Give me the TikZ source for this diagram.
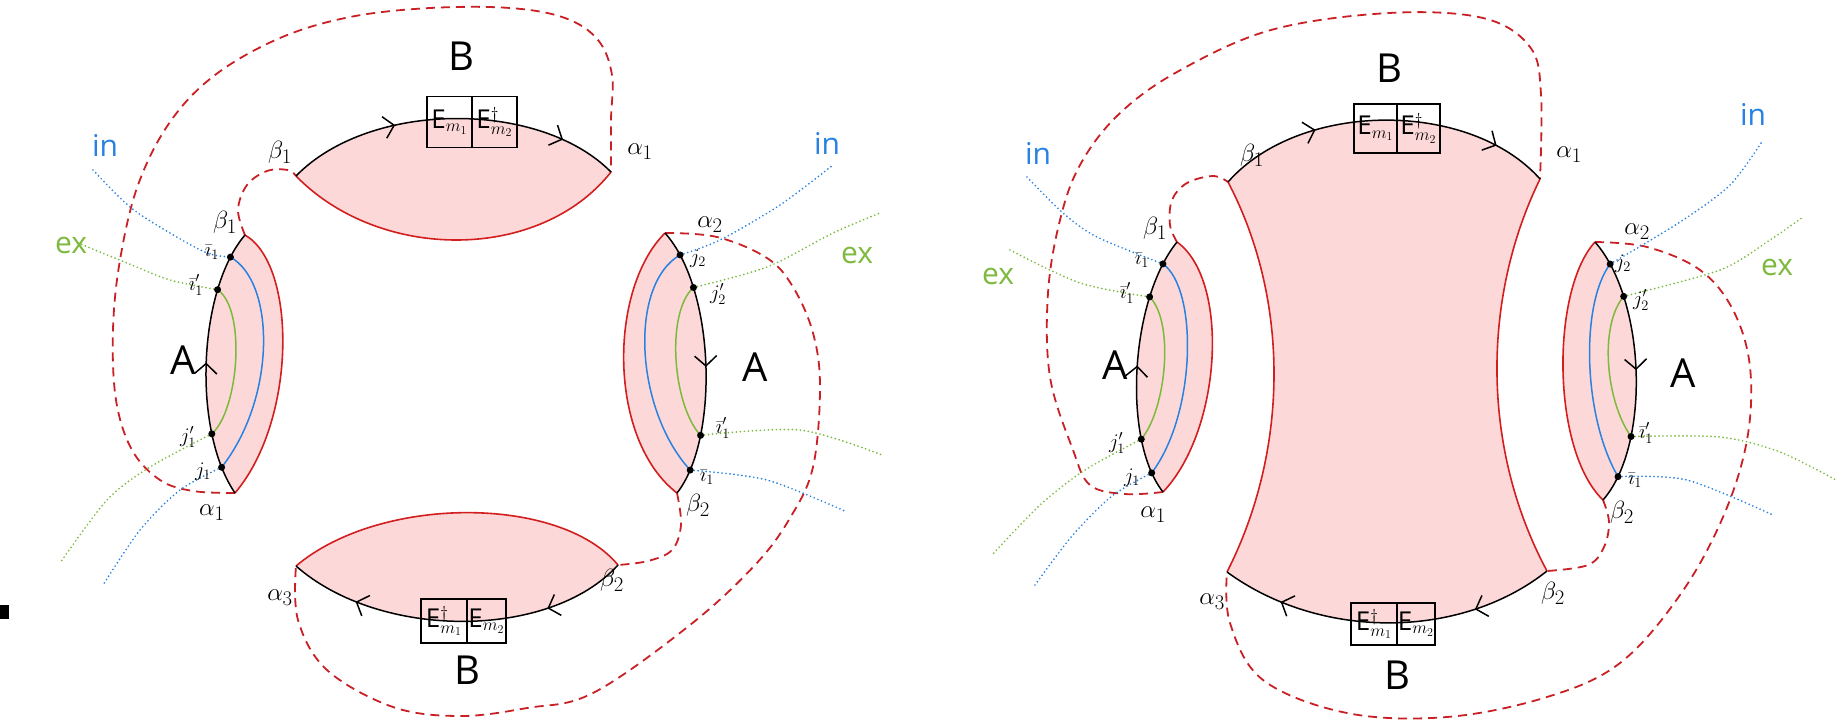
\documentclass[tikz,border=0pt]{standalone}
\usepackage{fontspec}
\setmainfont{Open Sans}
\usetikzlibrary{arrows.meta,decorations.markings}
\definecolor{pinkfill}{RGB}{253,216,216}
\definecolor{redline}{RGB}{210,30,30}
\definecolor{reddash}{RGB}{200,32,36}
\definecolor{inblue}{RGB}{40,130,225}
\definecolor{exgreen}{RGB}{125,185,60}
\tikzset{
  chev/.tip={Straight Barb[length=10pt,width=22pt]},
  blk/.style={line width=1.5pt, draw=black},
  redl/.style={line width=1.6pt, draw=redline},
  rdash/.style={line width=1.8pt, draw=reddash, dash pattern=on 9pt off 6pt},
  bdot/.style={line width=1.9pt, draw=inblue, dash pattern=on 0pt off 4pt, line cap=round},
  gdot/.style={line width=1.9pt, draw=exgreen, dash pattern=on 0pt off 4pt, line cap=round},
  blu/.style={line width=1.5pt, draw=inblue},
  grn/.style={line width=1.5pt, draw=exgreen},
  pnt/.style={circle, fill=black, inner sep=0pt, minimum size=7pt},
  lab/.style={inner sep=0pt, font=\fontsize{22}{22}\selectfont},
  ablab/.style={inner sep=0pt, font=\fontsize{30}{30}\selectfont},
  big/.style={inner sep=0pt, font=\fontsize{40}{40}\selectfont},
  word/.style={inner sep=0pt, font=\fontsize{30}{30}\selectfont},
  ebox/.style={draw=black, line width=1.4pt, inner sep=0pt, font=\fontsize{26}{26}\selectfont},
  arrs/.style 2 args={postaction={decorate,decoration={markings,
      mark=at position #1 with {\arrow{chev}},
      mark=at position #2 with {\arrow{chev}}}}},
  arrone/.style={postaction={decorate,decoration={markings,
      mark=at position #1 with {\arrow{chev}}}}},
  rarrone/.style={postaction={decorate,decoration={markings,
      mark=at position #1 with {\arrowreversed{chev}}}}},
}
\begin{document}
\begin{tikzpicture}[x=1pt,y=-1pt]
\useasboundingbox (0,0) rectangle (1845,721);
\fill[black] (0,605) rectangle (9,619);

%================ LEFT DIAGRAM ================
\coordinate (TLb1) at (296,176);
\coordinate (TLa1) at (611,172);
\coordinate (BLa3) at (296,566);
\coordinate (BLb2) at (618,565);
\coordinate (LAt) at (245,235);
\coordinate (LAb) at (235,493);
\coordinate (RAt) at (665,233);
\coordinate (RAb) at (677,493);

\fill[pinkfill] (TLb1) .. controls (370,100) and (540,100) .. (TLa1) .. controls (540,262) and (380,262) .. (TLb1) -- cycle;
\fill[pinkfill] (BLa3) .. controls (380,495) and (560,495) .. (BLb2) .. controls (550,640) and (380,640) .. (BLa3) -- cycle;
\fill[pinkfill] (LAt) .. controls (198,290) and (192,430) .. (LAb) .. controls (297,420) and (297,265) .. (LAt) -- cycle;
\fill[pinkfill] (RAt) .. controls (716,290) and (719,440) .. (RAb) .. controls (608,440) and (608,290) .. (RAt) -- cycle;

\draw[rdash] plot[smooth, tension=0.6] coordinates {(LAb) (193,491) (160,480) (132,450) (116,400) (113,330) (120,260) (138,185) (170,122) (215,75) (280,38) (350,17) (430,8) (510,8) (565,18) (598,40) (612,75) (611,120) (TLa1)};
\draw[rdash] plot[smooth, tension=0.6] coordinates {(LAt) (238,210) (247,185) (267,171) (288,170) (TLb1)};
\draw[rdash] plot[smooth, tension=0.6] coordinates {(RAt) (717,237) (767,258) (793,287) (813,333) (820,387) (813,467) (790,518) (755,565) (690,625) (593,693) (527,708) (460,716) (393,707) (327,670) (298,620) (BLa3)};
\draw[rdash] plot[smooth, tension=0.6] coordinates {(RAb) (681,525) (672,550) (648,561) (BLb2)};

\draw[redl] (TLa1) .. controls (540,262) and (380,262) .. (TLb1);
\draw[blk, arrs={0.33}{0.83}] (TLb1) .. controls (370,100) and (540,100) .. (TLa1);
\node[ebox, minimum width=45pt, minimum height=51pt] (TLe1) at (449.5,122) {$\mathrm{E}_{m_1}$};
\node[ebox, minimum width=45pt, minimum height=51pt] (TLe2) at (494.5,122) {$\mathrm{E}^{\dagger}_{m_2}$};
\node[big] (TLB) at (461,56) {B};
\node[ablab] (TLlb) at (280,152) {$\beta_1$};
\node[ablab] (TLla) at (640,152) {$\alpha_1$};

\draw[redl] (BLa3) .. controls (380,495) and (560,495) .. (BLb2);
\draw[blk, arrs={0.24}{0.8}] (BLb2) .. controls (550,640) and (380,640) .. (BLa3);
\node[ebox, minimum width=46pt, minimum height=44pt] (BLe1) at (444,621) {$\mathrm{E}^{\dagger}_{m_1}$};
\node[ebox, minimum width=39pt, minimum height=44pt] (BLe2) at (486.5,621) {$\mathrm{E}_{m_2}$};
\node[big] (BLB) at (467,670) {B};
\node[ablab] (BLla) at (280,598) {$\alpha_3$};
\node[ablab] (BLlb) at (612,580) {$\beta_2$};

\draw[redl] (LAt) .. controls (297,265) and (297,420) .. (LAb);
\draw[blk, rarrone=0.5] (LAt) .. controls (198,290) and (192,430) .. (LAb)
  coordinate[pos=0.115] (LAi1) coordinate[pos=0.25] (LAi1p)
  coordinate[pos=0.75] (LAj1p) coordinate[pos=0.88] (LAj1);
\draw[blu] (LAi1) .. controls +(45,25) and +(55,-70) .. (LAj1);
\draw[grn] (LAi1p) .. controls +(29,20) and +(27,-24) .. (LAj1p);
\coordinate (LinE) at (93,170);
\coordinate (LexE) at (78,243);
\coordinate (LgdE) at (60,563);
\coordinate (LbdE) at (103,585);
\draw[bdot] plot[smooth] coordinates {(LinE) (130,207) (170,233) (207,253) (LAi1)};
\draw[gdot] plot[smooth] coordinates {(LexE) (127,263) (170,280) (LAi1p)};
\draw[gdot] plot[smooth] coordinates {(LAj1p) (150,467) (107,500) (LgdE)};
\draw[bdot] plot[smooth] coordinates {(LAj1) (180,490) (140,530) (LbdE)};
\node[pnt] (LAd1) at (LAi1) {};
\node[pnt] (LAd2) at (LAi1p) {};
\node[pnt] (LAd3) at (LAj1p) {};
\node[pnt] (LAd4) at (LAj1) {};
\node[ablab] (LAlb) at (225,222) {$\beta_1$};
\node[lab] (LAli) at (212,252) {$\bar{\imath}_1$};
\node[lab] (LAlip) at (196,285) {$\bar{\imath}_1'$};
\node[lab] (LAljp) at (188,437) {$j_1'$};
\node[lab] (LAlj) at (203,472) {$j_1$};
\node[ablab] (LAla) at (212,513) {$\alpha_1$};
\node[big] (LAA) at (183,360) {A};
\node[word, text=inblue] (Lin) at (105,145) {in};
\node[word, text=exgreen] (Lex) at (71,245) {ex};

\draw[redl] (RAt) .. controls (608,290) and (608,440) .. (RAb);
\draw[blk, arrone=0.52] (RAt) .. controls (716,290) and (719,440) .. (RAb)
  coordinate[pos=0.11] (RAj2) coordinate[pos=0.24] (RAj2p)
  coordinate[pos=0.74] (RAi1p) coordinate[pos=0.88] (RAi1);
\draw[blu] (RAj2) .. controls +(-52,30) and +(-55,-60) .. (RAi1);
\draw[grn] (RAj2p) .. controls +(-28,25) and +(-28,-30) .. (RAi1p);
\coordinate (RinE) at (833,165);
\coordinate (RexE) at (880,213);
\coordinate (RgrE) at (882,455);
\coordinate (RbrE) at (847,512);
\draw[bdot] plot[smooth] coordinates {(RAj2) (720,240) (780,205) (RinE)};
\draw[gdot] plot[smooth] coordinates {(RAj2p) (767,267) (833,233) (RexE)};
\draw[gdot] plot[smooth] coordinates {(RAi1p) (800,430) (RgrE)};
\draw[bdot] plot[smooth] coordinates {(RAi1) (767,480) (RbrE)};
\node[pnt] (RAd1) at (RAj2) {};
\node[pnt] (RAd2) at (RAj2p) {};
\node[pnt] (RAd3) at (RAi1p) {};
\node[pnt] (RAd4) at (RAi1) {};
\node[ablab] (RAla) at (710,225) {$\alpha_2$};
\node[lab] (RAlj) at (698,259) {$j_2$};
\node[lab] (RAljp) at (718,294) {$j_2'$};
\node[lab] (RAlip) at (723,428) {$\bar{\imath}_1'$};
\node[lab] (RAli) at (707,477) {$\bar{\imath}_1$};
\node[ablab] (RAlb) at (698,505) {$\beta_2$};
\node[big] (RAA) at (755,367) {A};
\node[word, text=inblue] (Rin) at (827,143) {in};
\node[word, text=exgreen] (Rex) at (857,255) {ex};

%================ RIGHT DIAGRAM ================
\coordinate (TRb1) at (1228,182);
\coordinate (TRa1) at (1540,179);
\coordinate (BRa3) at (1227,572);
\coordinate (BRb2) at (1547,571);
\coordinate (RLt) at (1177,242);
\coordinate (RLb) at (1163,492);
\coordinate (RRt) at (1595,242);
\coordinate (RRb) at (1603,500);

\fill[pinkfill] (TRb1) .. controls (1300,100) and (1470,100) .. (TRa1) .. controls (1481,300) and (1482,450) .. (BRb2) .. controls (1460,640) and (1320,640) .. (BRa3) .. controls (1289,450) and (1290,300) .. (TRb1) -- cycle;
\fill[pinkfill] (RLt) .. controls (1130,300) and (1122,440) .. (RLb) .. controls (1222,430) and (1230,280) .. (RLt) -- cycle;
\fill[pinkfill] (RRt) .. controls (1646,300) and (1651,445) .. (RRb) .. controls (1551,450) and (1551,290) .. (RRt) -- cycle;

\draw[rdash] plot[smooth, tension=0.6] coordinates {(RLb) (1125,494) (1090,485) (1073,450) (1050,377) (1048,293) (1060,220) (1080,165) (1118,115) (1177,72) (1271,30) (1389,13) (1483,18) (1530,47) (1541,94) (TRa1)};
\draw[rdash] plot[smooth, tension=0.6] coordinates {(RLt) (1170,225) (1172,200) (1187,183) (1213,176) (TRb1)};
\draw[rdash] plot[smooth, tension=0.6] coordinates {(RRt) (1647,247) (1700,270) (1733,310) (1750,367) (1747,440) (1723,517) (1680,595) (1620,663) (1547,697) (1447,717) (1347,713) (1263,680) (1230,623) (BRa3)};
\draw[rdash] plot[smooth, tension=0.6] coordinates {(RRb) (1609,522) (1604,547) (1588,565) (BRb2)};

\draw[redl] (TRa1) .. controls (1481,300) and (1482,450) .. (BRb2);
\draw[redl] (BRa3) .. controls (1289,450) and (1290,300) .. (TRb1);
\draw[blk, arrs={0.3}{0.84}] (TRb1) .. controls (1300,100) and (1470,100) .. (TRa1);
\draw[blk, arrs={0.24}{0.82}] (BRb2) .. controls (1460,640) and (1320,640) .. (BRa3);
\node[ebox, minimum width=43pt, minimum height=49pt] (TRe1) at (1375.5,128.5) {$\mathrm{E}_{m_1}$};
\node[ebox, minimum width=43pt, minimum height=49pt] (TRe2) at (1418.5,128.5) {$\mathrm{E}^{\dagger}_{m_2}$};
\node[ebox, minimum width=46pt, minimum height=42pt] (BRe1) at (1374,624) {$\mathrm{E}^{\dagger}_{m_1}$};
\node[ebox, minimum width=38pt, minimum height=42pt] (BRe2) at (1416,624) {$\mathrm{E}_{m_2}$};
\node[big] (TRB) at (1389,68) {B};
\node[big] (BRB) at (1397,675) {B};
\node[ablab] (TRlb) at (1252,155) {$\beta_1$};
\node[ablab] (TRla) at (1569,155) {$\alpha_1$};
\node[ablab] (BRla) at (1212,602) {$\alpha_3$};
\node[ablab] (BRlb) at (1553,593) {$\beta_2$};

\draw[redl] (RLt) .. controls (1230,280) and (1222,430) .. (RLb);
\draw[blk, rarrone=0.5] (RLt) .. controls (1130,300) and (1122,440) .. (RLb)
  coordinate[pos=0.11] (RLi1) coordinate[pos=0.245] (RLi1p)
  coordinate[pos=0.75] (RLj1p) coordinate[pos=0.895] (RLj1);
\draw[blu] (RLi1) .. controls +(35,25) and +(45,-60) .. (RLj1);
\draw[grn] (RLi1p) .. controls +(25,25) and +(25,-30) .. (RLj1p);
\coordinate (RLinE) at (1027,177);
\coordinate (RLexE) at (1010,250);
\coordinate (RLgdE) at (992,555);
\coordinate (RLbdE) at (1035,585);
\draw[bdot] plot[smooth] coordinates {(RLinE) (1063,213) (1097,237) (RLi1)};
\draw[gdot] plot[smooth] coordinates {(RLexE) (1080,283) (RLi1p)};
\draw[gdot] plot[smooth] coordinates {(RLj1p) (1085,470) (1040,505) (RLgdE)};
\draw[bdot] plot[smooth] coordinates {(RLj1) (1112,496) (1072,536) (RLbdE)};
\node[pnt] (RLd1) at (RLi1) {};
\node[pnt] (RLd2) at (RLi1p) {};
\node[pnt] (RLd3) at (RLj1p) {};
\node[pnt] (RLd4) at (RLj1) {};
\node[ablab] (RLlb) at (1155,228) {$\beta_1$};
\node[lab] (RLli) at (1142,260) {$\bar{\imath}_1$};
\node[lab] (RLlip) at (1127,293) {$\bar{\imath}_1'$};
\node[lab] (RLljp) at (1117,443) {$j_1'$};
\node[lab] (RLlj) at (1132,478) {$j_1$};
\node[ablab] (RLla) at (1153,515) {$\alpha_1$};
\node[big] (RLA) at (1115,365) {A};
\node[word, text=inblue] (RLin) at (1038,153) {in};
\node[word, text=exgreen] (RLex) at (998,276) {ex};

\draw[redl] (RRt) .. controls (1551,290) and (1551,450) .. (RRb);
\draw[blk, arrone=0.5] (RRt) .. controls (1646,300) and (1651,445) .. (RRb)
  coordinate[pos=0.11] (RRj2) coordinate[pos=0.24] (RRj2p)
  coordinate[pos=0.72] (RRi1p) coordinate[pos=0.88] (RRi1);
\draw[blu] (RRj2) .. controls +(-30,40) and +(-35,-60) .. (RRi1);
\draw[grn] (RRj2p) .. controls +(-25,30) and +(-25,-35) .. (RRi1p);
\coordinate (RRinE) at (1763,140);
\coordinate (RRexE) at (1803,217);
\coordinate (RRgrE) at (1836,480);
\coordinate (RRbrE) at (1773,515);
\draw[bdot] plot[smooth] coordinates {(RRj2) (1680,222) (1730,185) (RRinE)};
\draw[gdot] plot[smooth] coordinates {(RRj2p) (1720,270) (1770,240) (RRexE)};
\draw[gdot] plot[smooth] coordinates {(RRi1p) (1720,437) (1780,452) (RRgrE)};
\draw[bdot] plot[smooth] coordinates {(RRi1) (1687,480) (RRbrE)};
\node[pnt] (RRd1) at (RRj2) {};
\node[pnt] (RRd2) at (RRj2p) {};
\node[pnt] (RRd3) at (RRi1p) {};
\node[pnt] (RRd4) at (RRi1) {};
\node[ablab] (RRla) at (1637,232) {$\alpha_2$};
\node[lab] (RRlj) at (1623,264) {$j_2$};
\node[lab] (RRljp) at (1641,300) {$j_2'$};
\node[lab] (RRlip) at (1646,433) {$\bar{\imath}_1'$};
\node[lab] (RRli) at (1635,480) {$\bar{\imath}_1$};
\node[ablab] (RRlb) at (1622,512) {$\beta_2$};
\node[big] (RRA) at (1683,373) {A};
\node[word, text=inblue] (RRin) at (1753,114) {in};
\node[word, text=exgreen] (RRex) at (1777,267) {ex};
\end{tikzpicture}
\end{document}
